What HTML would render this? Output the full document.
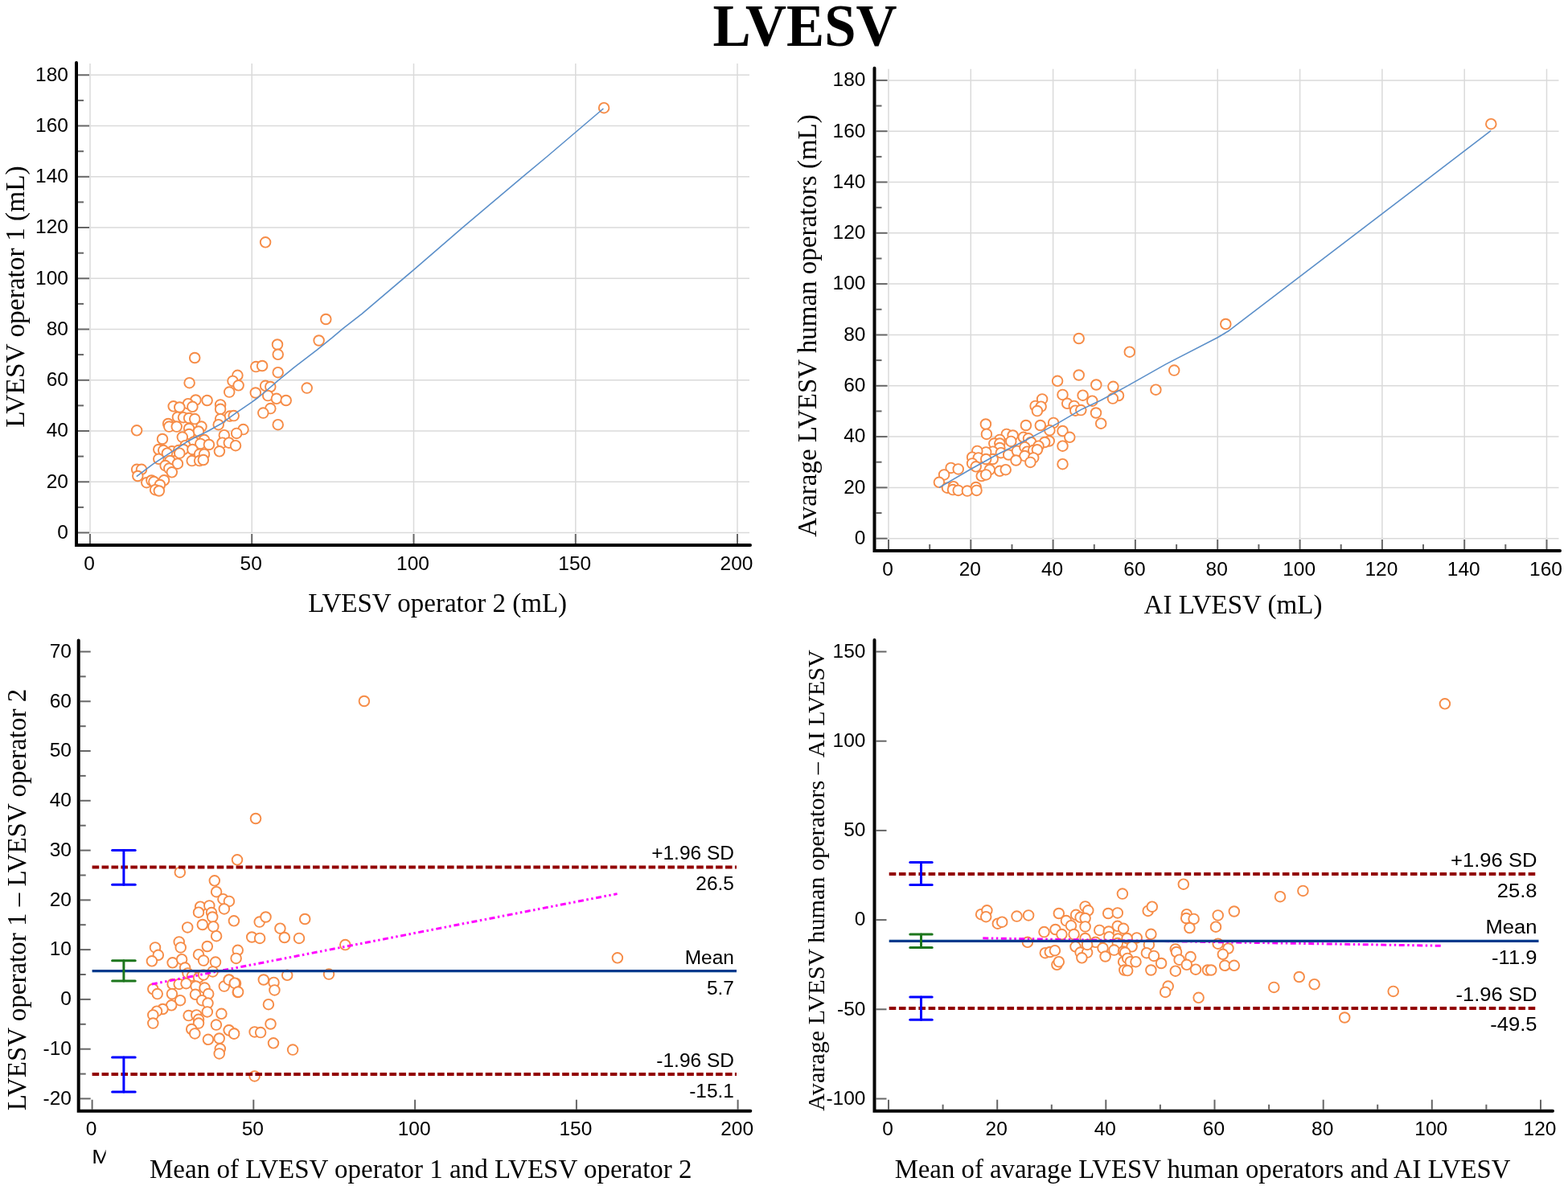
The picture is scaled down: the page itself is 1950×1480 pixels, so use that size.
<!DOCTYPE html>
<html><head><meta charset="utf-8"><title>LVESV</title>
<style>html,body{margin:0;padding:0;background:#fff;}svg{display:block;}</style>
</head><body>
<svg width="1950" height="1480" viewBox="0 0 1950 1480">
<rect width="1950" height="1480" fill="#fff"/>
<text x="0" y="0" font-size="74" font-family="'Liberation Serif', 'Times New Roman', serif" text-anchor="middle" font-weight="bold" transform="translate(1001 56.6) scale(0.955 1)">LVESV</text>
<line x1="112" y1="79" x2="112" y2="662.5" stroke="#dadada" stroke-width="1.5" />
<line x1="313.2" y1="79" x2="313.2" y2="662.5" stroke="#dadada" stroke-width="1.5" />
<line x1="514.5" y1="79" x2="514.5" y2="662.5" stroke="#dadada" stroke-width="1.5" />
<line x1="715.8" y1="79" x2="715.8" y2="662.5" stroke="#dadada" stroke-width="1.5" />
<line x1="917" y1="79" x2="917" y2="662.5" stroke="#dadada" stroke-width="1.5" />
<line x1="111" y1="662.5" x2="932" y2="662.5" stroke="#dadada" stroke-width="1.5" />
<line x1="111" y1="599.3" x2="932" y2="599.3" stroke="#dadada" stroke-width="1.5" />
<line x1="111" y1="536" x2="932" y2="536" stroke="#dadada" stroke-width="1.5" />
<line x1="111" y1="472.8" x2="932" y2="472.8" stroke="#dadada" stroke-width="1.5" />
<line x1="111" y1="409.5" x2="932" y2="409.5" stroke="#dadada" stroke-width="1.5" />
<line x1="111" y1="346.3" x2="932" y2="346.3" stroke="#dadada" stroke-width="1.5" />
<line x1="111" y1="283" x2="932" y2="283" stroke="#dadada" stroke-width="1.5" />
<line x1="111" y1="219.8" x2="932" y2="219.8" stroke="#dadada" stroke-width="1.5" />
<line x1="111" y1="156.5" x2="932" y2="156.5" stroke="#dadada" stroke-width="1.5" />
<line x1="111" y1="93.3" x2="932" y2="93.3" stroke="#dadada" stroke-width="1.5" />
<line x1="97" y1="662.5" x2="111" y2="662.5" stroke="#666" stroke-width="2" />
<text x="85" y="669.7" font-size="24.5" font-family="'Liberation Sans', Arial, sans-serif" text-anchor="end" >0</text>
<line x1="97" y1="599.3" x2="111" y2="599.3" stroke="#666" stroke-width="2" />
<text x="85" y="606.5" font-size="24.5" font-family="'Liberation Sans', Arial, sans-serif" text-anchor="end" >20</text>
<line x1="97" y1="536" x2="111" y2="536" stroke="#666" stroke-width="2" />
<text x="85" y="543.3" font-size="24.5" font-family="'Liberation Sans', Arial, sans-serif" text-anchor="end" >40</text>
<line x1="97" y1="472.8" x2="111" y2="472.8" stroke="#666" stroke-width="2" />
<text x="85" y="480" font-size="24.5" font-family="'Liberation Sans', Arial, sans-serif" text-anchor="end" >60</text>
<line x1="97" y1="409.5" x2="111" y2="409.5" stroke="#666" stroke-width="2" />
<text x="85" y="416.8" font-size="24.5" font-family="'Liberation Sans', Arial, sans-serif" text-anchor="end" >80</text>
<line x1="97" y1="346.3" x2="111" y2="346.3" stroke="#666" stroke-width="2" />
<text x="85" y="353.5" font-size="24.5" font-family="'Liberation Sans', Arial, sans-serif" text-anchor="end" >100</text>
<line x1="97" y1="283" x2="111" y2="283" stroke="#666" stroke-width="2" />
<text x="85" y="290.3" font-size="24.5" font-family="'Liberation Sans', Arial, sans-serif" text-anchor="end" >120</text>
<line x1="97" y1="219.8" x2="111" y2="219.8" stroke="#666" stroke-width="2" />
<text x="85" y="227" font-size="24.5" font-family="'Liberation Sans', Arial, sans-serif" text-anchor="end" >140</text>
<line x1="97" y1="156.5" x2="111" y2="156.5" stroke="#666" stroke-width="2" />
<text x="85" y="163.8" font-size="24.5" font-family="'Liberation Sans', Arial, sans-serif" text-anchor="end" >160</text>
<line x1="97" y1="93.3" x2="111" y2="93.3" stroke="#666" stroke-width="2" />
<text x="85" y="100.5" font-size="24.5" font-family="'Liberation Sans', Arial, sans-serif" text-anchor="end" >180</text>
<line x1="97" y1="630.9" x2="104" y2="630.9" stroke="#666" stroke-width="2" />
<line x1="97" y1="567.6" x2="104" y2="567.6" stroke="#666" stroke-width="2" />
<line x1="97" y1="504.4" x2="104" y2="504.4" stroke="#666" stroke-width="2" />
<line x1="97" y1="441.1" x2="104" y2="441.1" stroke="#666" stroke-width="2" />
<line x1="97" y1="377.9" x2="104" y2="377.9" stroke="#666" stroke-width="2" />
<line x1="97" y1="314.7" x2="104" y2="314.7" stroke="#666" stroke-width="2" />
<line x1="97" y1="251.4" x2="104" y2="251.4" stroke="#666" stroke-width="2" />
<line x1="97" y1="188.2" x2="104" y2="188.2" stroke="#666" stroke-width="2" />
<line x1="97" y1="124.9" x2="104" y2="124.9" stroke="#666" stroke-width="2" />
<line x1="112" y1="676" x2="112" y2="664" stroke="#666" stroke-width="2" />
<text x="111" y="709.3" font-size="24.5" font-family="'Liberation Sans', Arial, sans-serif" text-anchor="middle" >0</text>
<line x1="313.2" y1="676" x2="313.2" y2="664" stroke="#666" stroke-width="2" />
<text x="312.2" y="709.3" font-size="24.5" font-family="'Liberation Sans', Arial, sans-serif" text-anchor="middle" >50</text>
<line x1="514.5" y1="676" x2="514.5" y2="664" stroke="#666" stroke-width="2" />
<text x="513.5" y="709.3" font-size="24.5" font-family="'Liberation Sans', Arial, sans-serif" text-anchor="middle" >100</text>
<line x1="715.8" y1="676" x2="715.8" y2="664" stroke="#666" stroke-width="2" />
<text x="714.8" y="709.3" font-size="24.5" font-family="'Liberation Sans', Arial, sans-serif" text-anchor="middle" >150</text>
<line x1="917" y1="676" x2="917" y2="664" stroke="#666" stroke-width="2" />
<text x="916" y="709.3" font-size="24.5" font-family="'Liberation Sans', Arial, sans-serif" text-anchor="middle" >200</text>
<path d="M95 78V678H933" fill="none" stroke="#000" stroke-width="4" stroke-linecap="round" stroke-linejoin="miter"/>
<text x="544.2" y="760.9" font-size="33" font-family="'Liberation Serif', 'Times New Roman', serif" text-anchor="middle" >LVESV operator 2 (mL)</text>
<text x="30.3" y="369.1" font-size="33.4" font-family="'Liberation Serif', 'Times New Roman', serif" text-anchor="middle" transform="rotate(-90 30.3 369.1)">LVESV operator 1 (mL)</text>
<line x1="1105" y1="85.7" x2="1105" y2="669.7" stroke="#dadada" stroke-width="1.5" />
<line x1="1207.3" y1="85.7" x2="1207.3" y2="669.7" stroke="#dadada" stroke-width="1.5" />
<line x1="1309.6" y1="85.7" x2="1309.6" y2="669.7" stroke="#dadada" stroke-width="1.5" />
<line x1="1411.9" y1="85.7" x2="1411.9" y2="669.7" stroke="#dadada" stroke-width="1.5" />
<line x1="1514.2" y1="85.7" x2="1514.2" y2="669.7" stroke="#dadada" stroke-width="1.5" />
<line x1="1616.6" y1="85.7" x2="1616.6" y2="669.7" stroke="#dadada" stroke-width="1.5" />
<line x1="1718.9" y1="85.7" x2="1718.9" y2="669.7" stroke="#dadada" stroke-width="1.5" />
<line x1="1821.2" y1="85.7" x2="1821.2" y2="669.7" stroke="#dadada" stroke-width="1.5" />
<line x1="1923.5" y1="85.7" x2="1923.5" y2="669.7" stroke="#dadada" stroke-width="1.5" />
<line x1="1103" y1="669.7" x2="1938.5" y2="669.7" stroke="#dadada" stroke-width="1.5" />
<line x1="1103" y1="606.4" x2="1938.5" y2="606.4" stroke="#dadada" stroke-width="1.5" />
<line x1="1103" y1="543.1" x2="1938.5" y2="543.1" stroke="#dadada" stroke-width="1.5" />
<line x1="1103" y1="479.8" x2="1938.5" y2="479.8" stroke="#dadada" stroke-width="1.5" />
<line x1="1103" y1="416.5" x2="1938.5" y2="416.5" stroke="#dadada" stroke-width="1.5" />
<line x1="1103" y1="353.1" x2="1938.5" y2="353.1" stroke="#dadada" stroke-width="1.5" />
<line x1="1103" y1="289.8" x2="1938.5" y2="289.8" stroke="#dadada" stroke-width="1.5" />
<line x1="1103" y1="226.5" x2="1938.5" y2="226.5" stroke="#dadada" stroke-width="1.5" />
<line x1="1103" y1="163.2" x2="1938.5" y2="163.2" stroke="#dadada" stroke-width="1.5" />
<line x1="1103" y1="99.9" x2="1938.5" y2="99.9" stroke="#dadada" stroke-width="1.5" />
<line x1="1089.5" y1="669.7" x2="1103.5" y2="669.7" stroke="#666" stroke-width="2" />
<text x="1076.5" y="676.9" font-size="24.5" font-family="'Liberation Sans', Arial, sans-serif" text-anchor="end" >0</text>
<line x1="1089.5" y1="606.4" x2="1103.5" y2="606.4" stroke="#666" stroke-width="2" />
<text x="1076.5" y="613.6" font-size="24.5" font-family="'Liberation Sans', Arial, sans-serif" text-anchor="end" >20</text>
<line x1="1089.5" y1="543.1" x2="1103.5" y2="543.1" stroke="#666" stroke-width="2" />
<text x="1076.5" y="550.3" font-size="24.5" font-family="'Liberation Sans', Arial, sans-serif" text-anchor="end" >40</text>
<line x1="1089.5" y1="479.8" x2="1103.5" y2="479.8" stroke="#666" stroke-width="2" />
<text x="1076.5" y="487" font-size="24.5" font-family="'Liberation Sans', Arial, sans-serif" text-anchor="end" >60</text>
<line x1="1089.5" y1="416.5" x2="1103.5" y2="416.5" stroke="#666" stroke-width="2" />
<text x="1076.5" y="423.7" font-size="24.5" font-family="'Liberation Sans', Arial, sans-serif" text-anchor="end" >80</text>
<line x1="1089.5" y1="353.1" x2="1103.5" y2="353.1" stroke="#666" stroke-width="2" />
<text x="1076.5" y="360.4" font-size="24.5" font-family="'Liberation Sans', Arial, sans-serif" text-anchor="end" >100</text>
<line x1="1089.5" y1="289.8" x2="1103.5" y2="289.8" stroke="#666" stroke-width="2" />
<text x="1076.5" y="297.1" font-size="24.5" font-family="'Liberation Sans', Arial, sans-serif" text-anchor="end" >120</text>
<line x1="1089.5" y1="226.5" x2="1103.5" y2="226.5" stroke="#666" stroke-width="2" />
<text x="1076.5" y="233.8" font-size="24.5" font-family="'Liberation Sans', Arial, sans-serif" text-anchor="end" >140</text>
<line x1="1089.5" y1="163.2" x2="1103.5" y2="163.2" stroke="#666" stroke-width="2" />
<text x="1076.5" y="170.5" font-size="24.5" font-family="'Liberation Sans', Arial, sans-serif" text-anchor="end" >160</text>
<line x1="1089.5" y1="99.9" x2="1103.5" y2="99.9" stroke="#666" stroke-width="2" />
<text x="1076.5" y="107.1" font-size="24.5" font-family="'Liberation Sans', Arial, sans-serif" text-anchor="end" >180</text>
<line x1="1089.5" y1="638" x2="1096.5" y2="638" stroke="#666" stroke-width="2" />
<line x1="1089.5" y1="574.7" x2="1096.5" y2="574.7" stroke="#666" stroke-width="2" />
<line x1="1089.5" y1="511.4" x2="1096.5" y2="511.4" stroke="#666" stroke-width="2" />
<line x1="1089.5" y1="448.1" x2="1096.5" y2="448.1" stroke="#666" stroke-width="2" />
<line x1="1089.5" y1="384.8" x2="1096.5" y2="384.8" stroke="#666" stroke-width="2" />
<line x1="1089.5" y1="321.5" x2="1096.5" y2="321.5" stroke="#666" stroke-width="2" />
<line x1="1089.5" y1="258.2" x2="1096.5" y2="258.2" stroke="#666" stroke-width="2" />
<line x1="1089.5" y1="194.9" x2="1096.5" y2="194.9" stroke="#666" stroke-width="2" />
<line x1="1089.5" y1="131.6" x2="1096.5" y2="131.6" stroke="#666" stroke-width="2" />
<line x1="1105" y1="683" x2="1105" y2="671" stroke="#666" stroke-width="2" />
<text x="1104" y="716" font-size="24.5" font-family="'Liberation Sans', Arial, sans-serif" text-anchor="middle" >0</text>
<line x1="1207.3" y1="683" x2="1207.3" y2="671" stroke="#666" stroke-width="2" />
<text x="1206.3" y="716" font-size="24.5" font-family="'Liberation Sans', Arial, sans-serif" text-anchor="middle" >20</text>
<line x1="1309.6" y1="683" x2="1309.6" y2="671" stroke="#666" stroke-width="2" />
<text x="1308.6" y="716" font-size="24.5" font-family="'Liberation Sans', Arial, sans-serif" text-anchor="middle" >40</text>
<line x1="1411.9" y1="683" x2="1411.9" y2="671" stroke="#666" stroke-width="2" />
<text x="1410.9" y="716" font-size="24.5" font-family="'Liberation Sans', Arial, sans-serif" text-anchor="middle" >60</text>
<line x1="1514.2" y1="683" x2="1514.2" y2="671" stroke="#666" stroke-width="2" />
<text x="1513.2" y="716" font-size="24.5" font-family="'Liberation Sans', Arial, sans-serif" text-anchor="middle" >80</text>
<line x1="1616.6" y1="683" x2="1616.6" y2="671" stroke="#666" stroke-width="2" />
<text x="1615.6" y="716" font-size="24.5" font-family="'Liberation Sans', Arial, sans-serif" text-anchor="middle" >100</text>
<line x1="1718.9" y1="683" x2="1718.9" y2="671" stroke="#666" stroke-width="2" />
<text x="1717.9" y="716" font-size="24.5" font-family="'Liberation Sans', Arial, sans-serif" text-anchor="middle" >120</text>
<line x1="1821.2" y1="683" x2="1821.2" y2="671" stroke="#666" stroke-width="2" />
<text x="1820.2" y="716" font-size="24.5" font-family="'Liberation Sans', Arial, sans-serif" text-anchor="middle" >140</text>
<line x1="1923.5" y1="683" x2="1923.5" y2="671" stroke="#666" stroke-width="2" />
<text x="1922.5" y="716" font-size="24.5" font-family="'Liberation Sans', Arial, sans-serif" text-anchor="middle" >160</text>
<line x1="1156.2" y1="683" x2="1156.2" y2="677" stroke="#666" stroke-width="2" />
<line x1="1258.5" y1="683" x2="1258.5" y2="677" stroke="#666" stroke-width="2" />
<line x1="1360.8" y1="683" x2="1360.8" y2="677" stroke="#666" stroke-width="2" />
<line x1="1463.1" y1="683" x2="1463.1" y2="677" stroke="#666" stroke-width="2" />
<line x1="1565.4" y1="683" x2="1565.4" y2="677" stroke="#666" stroke-width="2" />
<line x1="1667.7" y1="683" x2="1667.7" y2="677" stroke="#666" stroke-width="2" />
<line x1="1770" y1="683" x2="1770" y2="677" stroke="#666" stroke-width="2" />
<line x1="1872.3" y1="683" x2="1872.3" y2="677" stroke="#666" stroke-width="2" />
<path d="M1087.5 84.7V685H1940" fill="none" stroke="#000" stroke-width="4" stroke-linecap="round" stroke-linejoin="miter"/>
<text x="1533.5" y="763.1" font-size="33" font-family="'Liberation Serif', 'Times New Roman', serif" text-anchor="middle" >AI LVESV (mL)</text>
<text x="1015" y="405" font-size="33" font-family="'Liberation Serif', 'Times New Roman', serif" text-anchor="middle" transform="rotate(-90 1015 405)">Avarage LVESV human operators (mL)</text>
<line x1="99.7" y1="1366.4" x2="112.7" y2="1366.4" stroke="#666" stroke-width="2" />
<text x="89" y="1373.7" font-size="24.5" font-family="'Liberation Sans', Arial, sans-serif" text-anchor="end" >-20</text>
<line x1="99.7" y1="1304.7" x2="112.7" y2="1304.7" stroke="#666" stroke-width="2" />
<text x="89" y="1311.9" font-size="24.5" font-family="'Liberation Sans', Arial, sans-serif" text-anchor="end" >-10</text>
<line x1="99.7" y1="1242.9" x2="112.7" y2="1242.9" stroke="#666" stroke-width="2" />
<text x="89" y="1250.1" font-size="24.5" font-family="'Liberation Sans', Arial, sans-serif" text-anchor="end" >0</text>
<line x1="99.7" y1="1181.1" x2="112.7" y2="1181.1" stroke="#666" stroke-width="2" />
<text x="89" y="1188.4" font-size="24.5" font-family="'Liberation Sans', Arial, sans-serif" text-anchor="end" >10</text>
<line x1="99.7" y1="1119.4" x2="112.7" y2="1119.4" stroke="#666" stroke-width="2" />
<text x="89" y="1126.6" font-size="24.5" font-family="'Liberation Sans', Arial, sans-serif" text-anchor="end" >20</text>
<line x1="99.7" y1="1057.6" x2="112.7" y2="1057.6" stroke="#666" stroke-width="2" />
<text x="89" y="1064.8" font-size="24.5" font-family="'Liberation Sans', Arial, sans-serif" text-anchor="end" >30</text>
<line x1="99.7" y1="995.8" x2="112.7" y2="995.8" stroke="#666" stroke-width="2" />
<text x="89" y="1003.1" font-size="24.5" font-family="'Liberation Sans', Arial, sans-serif" text-anchor="end" >40</text>
<line x1="99.7" y1="934" x2="112.7" y2="934" stroke="#666" stroke-width="2" />
<text x="89" y="941.3" font-size="24.5" font-family="'Liberation Sans', Arial, sans-serif" text-anchor="end" >50</text>
<line x1="99.7" y1="872.3" x2="112.7" y2="872.3" stroke="#666" stroke-width="2" />
<text x="89" y="879.5" font-size="24.5" font-family="'Liberation Sans', Arial, sans-serif" text-anchor="end" >60</text>
<line x1="99.7" y1="810.5" x2="112.7" y2="810.5" stroke="#666" stroke-width="2" />
<text x="89" y="817.7" font-size="24.5" font-family="'Liberation Sans', Arial, sans-serif" text-anchor="end" >70</text>
<line x1="99.7" y1="1335.6" x2="106.7" y2="1335.6" stroke="#666" stroke-width="2" />
<line x1="99.7" y1="1273.8" x2="106.7" y2="1273.8" stroke="#666" stroke-width="2" />
<line x1="99.7" y1="1212" x2="106.7" y2="1212" stroke="#666" stroke-width="2" />
<line x1="99.7" y1="1150.2" x2="106.7" y2="1150.2" stroke="#666" stroke-width="2" />
<line x1="99.7" y1="1088.5" x2="106.7" y2="1088.5" stroke="#666" stroke-width="2" />
<line x1="99.7" y1="1026.7" x2="106.7" y2="1026.7" stroke="#666" stroke-width="2" />
<line x1="99.7" y1="964.9" x2="106.7" y2="964.9" stroke="#666" stroke-width="2" />
<line x1="99.7" y1="903.2" x2="106.7" y2="903.2" stroke="#666" stroke-width="2" />
<line x1="99.7" y1="841.4" x2="106.7" y2="841.4" stroke="#666" stroke-width="2" />
<line x1="114.6" y1="1379.7" x2="114.6" y2="1367.7" stroke="#666" stroke-width="2" />
<text x="113.6" y="1412.2" font-size="24.5" font-family="'Liberation Sans', Arial, sans-serif" text-anchor="middle" >0</text>
<line x1="315.3" y1="1379.7" x2="315.3" y2="1367.7" stroke="#666" stroke-width="2" />
<text x="314.3" y="1412.2" font-size="24.5" font-family="'Liberation Sans', Arial, sans-serif" text-anchor="middle" >50</text>
<line x1="516.1" y1="1379.7" x2="516.1" y2="1367.7" stroke="#666" stroke-width="2" />
<text x="515.1" y="1412.2" font-size="24.5" font-family="'Liberation Sans', Arial, sans-serif" text-anchor="middle" >100</text>
<line x1="716.9" y1="1379.7" x2="716.9" y2="1367.7" stroke="#666" stroke-width="2" />
<text x="715.9" y="1412.2" font-size="24.5" font-family="'Liberation Sans', Arial, sans-serif" text-anchor="middle" >150</text>
<line x1="917.6" y1="1379.7" x2="917.6" y2="1367.7" stroke="#666" stroke-width="2" />
<text x="916.6" y="1412.2" font-size="24.5" font-family="'Liberation Sans', Arial, sans-serif" text-anchor="middle" >200</text>
<path d="M97.7 796.6V1381.7H933.3" fill="none" stroke="#000" stroke-width="4" stroke-linecap="round" stroke-linejoin="miter"/>
<text x="523.3" y="1465.4" font-size="33" font-family="'Liberation Serif', 'Times New Roman', serif" text-anchor="middle" >Mean of LVESV operator 1 and LVESV operator 2</text>
<text x="31.5" y="1119" font-size="33" font-family="'Liberation Serif', 'Times New Roman', serif" text-anchor="middle" transform="rotate(-90 31.5 1119)">LVESV operator 1 – LVESV operator 2</text>
<line x1="1089.5" y1="1366.5" x2="1102.5" y2="1366.5" stroke="#666" stroke-width="2" />
<text x="1076.5" y="1373.7" font-size="24.5" font-family="'Liberation Sans', Arial, sans-serif" text-anchor="end" >-100</text>
<line x1="1089.5" y1="1255.3" x2="1102.5" y2="1255.3" stroke="#666" stroke-width="2" />
<text x="1076.5" y="1262.5" font-size="24.5" font-family="'Liberation Sans', Arial, sans-serif" text-anchor="end" >-50</text>
<line x1="1089.5" y1="1144.1" x2="1102.5" y2="1144.1" stroke="#666" stroke-width="2" />
<text x="1076.5" y="1151.3" font-size="24.5" font-family="'Liberation Sans', Arial, sans-serif" text-anchor="end" >0</text>
<line x1="1089.5" y1="1032.9" x2="1102.5" y2="1032.9" stroke="#666" stroke-width="2" />
<text x="1076.5" y="1040.1" font-size="24.5" font-family="'Liberation Sans', Arial, sans-serif" text-anchor="end" >50</text>
<line x1="1089.5" y1="921.7" x2="1102.5" y2="921.7" stroke="#666" stroke-width="2" />
<text x="1076.5" y="928.9" font-size="24.5" font-family="'Liberation Sans', Arial, sans-serif" text-anchor="end" >100</text>
<line x1="1089.5" y1="810.5" x2="1102.5" y2="810.5" stroke="#666" stroke-width="2" />
<text x="1076.5" y="817.7" font-size="24.5" font-family="'Liberation Sans', Arial, sans-serif" text-anchor="end" >150</text>
<line x1="1105" y1="1379.7" x2="1105" y2="1367.7" stroke="#666" stroke-width="2" />
<text x="1104" y="1412.3" font-size="24.5" font-family="'Liberation Sans', Arial, sans-serif" text-anchor="middle" >0</text>
<line x1="1240.2" y1="1379.7" x2="1240.2" y2="1367.7" stroke="#666" stroke-width="2" />
<text x="1239.2" y="1412.3" font-size="24.5" font-family="'Liberation Sans', Arial, sans-serif" text-anchor="middle" >20</text>
<line x1="1375.3" y1="1379.7" x2="1375.3" y2="1367.7" stroke="#666" stroke-width="2" />
<text x="1374.3" y="1412.3" font-size="24.5" font-family="'Liberation Sans', Arial, sans-serif" text-anchor="middle" >40</text>
<line x1="1510.5" y1="1379.7" x2="1510.5" y2="1367.7" stroke="#666" stroke-width="2" />
<text x="1509.5" y="1412.3" font-size="24.5" font-family="'Liberation Sans', Arial, sans-serif" text-anchor="middle" >60</text>
<line x1="1645.7" y1="1379.7" x2="1645.7" y2="1367.7" stroke="#666" stroke-width="2" />
<text x="1644.7" y="1412.3" font-size="24.5" font-family="'Liberation Sans', Arial, sans-serif" text-anchor="middle" >80</text>
<line x1="1780.8" y1="1379.7" x2="1780.8" y2="1367.7" stroke="#666" stroke-width="2" />
<text x="1779.8" y="1412.3" font-size="24.5" font-family="'Liberation Sans', Arial, sans-serif" text-anchor="middle" >100</text>
<line x1="1916" y1="1379.7" x2="1916" y2="1367.7" stroke="#666" stroke-width="2" />
<text x="1915" y="1412.3" font-size="24.5" font-family="'Liberation Sans', Arial, sans-serif" text-anchor="middle" >120</text>
<line x1="1172.6" y1="1379.7" x2="1172.6" y2="1373.7" stroke="#666" stroke-width="2" />
<line x1="1307.8" y1="1379.7" x2="1307.8" y2="1373.7" stroke="#666" stroke-width="2" />
<line x1="1442.9" y1="1379.7" x2="1442.9" y2="1373.7" stroke="#666" stroke-width="2" />
<line x1="1578.1" y1="1379.7" x2="1578.1" y2="1373.7" stroke="#666" stroke-width="2" />
<line x1="1713.2" y1="1379.7" x2="1713.2" y2="1373.7" stroke="#666" stroke-width="2" />
<line x1="1848.4" y1="1379.7" x2="1848.4" y2="1373.7" stroke="#666" stroke-width="2" />
<path d="M1087.5 796V1381.7H1931" fill="none" stroke="#000" stroke-width="4" stroke-linecap="round" stroke-linejoin="miter"/>
<text x="1495.5" y="1465" font-size="32.8" font-family="'Liberation Serif', 'Times New Roman', serif" text-anchor="middle" >Mean of avarage LVESV human operators and AI LVESV</text>
<text x="1025.3" y="1095" font-size="30.2" font-family="'Liberation Serif', 'Times New Roman', serif" text-anchor="middle" transform="rotate(-90 1025.3 1095)">Avarage LVESV human operators – AI LVESV</text>
<g fill="#fff" stroke="#F68C47" stroke-width="1.9">
<circle cx="751.1" cy="134.2" r="6.3"/>
<circle cx="330.1" cy="301.3" r="6.3"/>
<circle cx="405.3" cy="397" r="6.3"/>
<circle cx="396.6" cy="423.5" r="6.3"/>
<circle cx="345" cy="428.5" r="6.3"/>
<circle cx="345.7" cy="440.8" r="6.3"/>
<circle cx="242.2" cy="445" r="6.3"/>
<circle cx="318.3" cy="456.1" r="6.3"/>
<circle cx="326.1" cy="455" r="6.3"/>
<circle cx="345.7" cy="463.2" r="6.3"/>
<circle cx="295.4" cy="466.8" r="6.3"/>
<circle cx="289.5" cy="473.9" r="6.3"/>
<circle cx="296.6" cy="479.3" r="6.3"/>
<circle cx="235.6" cy="476.2" r="6.3"/>
<circle cx="330.1" cy="479.8" r="6.3"/>
<circle cx="336.3" cy="481" r="6.3"/>
<circle cx="381.7" cy="482.6" r="6.3"/>
<circle cx="285.2" cy="487.6" r="6.3"/>
<circle cx="317.8" cy="488.5" r="6.3"/>
<circle cx="333.2" cy="492.1" r="6.3"/>
<circle cx="343.9" cy="495.8" r="6.3"/>
<circle cx="355.7" cy="498" r="6.3"/>
<circle cx="257.6" cy="498" r="6.3"/>
<circle cx="243.4" cy="497.5" r="6.3"/>
<circle cx="233.9" cy="502.2" r="6.3"/>
<circle cx="239.4" cy="505.8" r="6.3"/>
<circle cx="215.7" cy="505.3" r="6.3"/>
<circle cx="223.3" cy="506.5" r="6.3"/>
<circle cx="274.1" cy="503.4" r="6.3"/>
<circle cx="274.1" cy="508.8" r="6.3"/>
<circle cx="336.3" cy="508.1" r="6.3"/>
<circle cx="327.3" cy="513.6" r="6.3"/>
<circle cx="220.9" cy="518.8" r="6.3"/>
<circle cx="228" cy="519.2" r="6.3"/>
<circle cx="235.1" cy="520" r="6.3"/>
<circle cx="242.2" cy="521.1" r="6.3"/>
<circle cx="285.9" cy="517.6" r="6.3"/>
<circle cx="290.7" cy="517.1" r="6.3"/>
<circle cx="274.1" cy="521.1" r="6.3"/>
<circle cx="271.7" cy="528.2" r="6.3"/>
<circle cx="209.1" cy="527" r="6.3"/>
<circle cx="210.3" cy="530.6" r="6.3"/>
<circle cx="219.7" cy="530.6" r="6.3"/>
<circle cx="250.5" cy="530.6" r="6.3"/>
<circle cx="235.1" cy="533" r="6.3"/>
<circle cx="345.7" cy="528.2" r="6.3"/>
<circle cx="170.1" cy="535.3" r="6.3"/>
<circle cx="246.9" cy="536.5" r="6.3"/>
<circle cx="302.5" cy="534.1" r="6.3"/>
<circle cx="294.2" cy="538.9" r="6.3"/>
<circle cx="235.1" cy="540" r="6.3"/>
<circle cx="278.8" cy="541.2" r="6.3"/>
<circle cx="226.8" cy="543.6" r="6.3"/>
<circle cx="202" cy="546" r="6.3"/>
<circle cx="254" cy="547.1" r="6.3"/>
<circle cx="241" cy="549.5" r="6.3"/>
<circle cx="249.3" cy="551.9" r="6.3"/>
<circle cx="259.9" cy="553" r="6.3"/>
<circle cx="276.5" cy="550.7" r="6.3"/>
<circle cx="284.8" cy="550.7" r="6.3"/>
<circle cx="293" cy="554.2" r="6.3"/>
<circle cx="230.4" cy="554.2" r="6.3"/>
<circle cx="197.3" cy="559" r="6.3"/>
<circle cx="203.2" cy="560.1" r="6.3"/>
<circle cx="213.8" cy="561.3" r="6.3"/>
<circle cx="222.1" cy="560.1" r="6.3"/>
<circle cx="228" cy="559" r="6.3"/>
<circle cx="239.4" cy="559" r="6.3"/>
<circle cx="272.9" cy="561.3" r="6.3"/>
<circle cx="207.9" cy="563.7" r="6.3"/>
<circle cx="223.3" cy="563.7" r="6.3"/>
<circle cx="248.1" cy="564.9" r="6.3"/>
<circle cx="254" cy="564.9" r="6.3"/>
<circle cx="197.3" cy="570.8" r="6.3"/>
<circle cx="238.7" cy="573.1" r="6.3"/>
<circle cx="248.1" cy="573.1" r="6.3"/>
<circle cx="252.8" cy="572" r="6.3"/>
<circle cx="211.5" cy="573.1" r="6.3"/>
<circle cx="220.9" cy="576.7" r="6.3"/>
<circle cx="205.6" cy="579.1" r="6.3"/>
<circle cx="210.3" cy="582.6" r="6.3"/>
<circle cx="213.8" cy="587.3" r="6.3"/>
<circle cx="170.1" cy="583.8" r="6.3"/>
<circle cx="176" cy="583.8" r="6.3"/>
<circle cx="171.3" cy="592" r="6.3"/>
<circle cx="182.3" cy="600.2" r="6.3"/>
<circle cx="188.4" cy="597.5" r="6.3"/>
<circle cx="191.4" cy="599.1" r="6.3"/>
<circle cx="204" cy="597.3" r="6.3"/>
<circle cx="198.9" cy="603" r="6.3"/>
<circle cx="193.1" cy="609.2" r="6.3"/>
<circle cx="197.8" cy="610.5" r="6.3"/>
<circle cx="1854.3" cy="154.2" r="6.3"/>
<circle cx="1524.3" cy="403" r="6.3"/>
<circle cx="1404.8" cy="437.7" r="6.3"/>
<circle cx="1460.2" cy="460.6" r="6.3"/>
<circle cx="1437.4" cy="484.7" r="6.3"/>
<circle cx="1341.7" cy="421" r="6.3"/>
<circle cx="1341.7" cy="466.5" r="6.3"/>
<circle cx="1315.1" cy="473.8" r="6.3"/>
<circle cx="1363.3" cy="478.5" r="6.3"/>
<circle cx="1384.4" cy="480.8" r="6.3"/>
<circle cx="1321.5" cy="490.9" r="6.3"/>
<circle cx="1346.6" cy="491.7" r="6.3"/>
<circle cx="1391" cy="492" r="6.3"/>
<circle cx="1383.9" cy="495.6" r="6.3"/>
<circle cx="1358.3" cy="498.7" r="6.3"/>
<circle cx="1296.1" cy="496.4" r="6.3"/>
<circle cx="1287.6" cy="504.9" r="6.3"/>
<circle cx="1294.6" cy="505.7" r="6.3"/>
<circle cx="1289.9" cy="511.1" r="6.3"/>
<circle cx="1327.2" cy="501.8" r="6.3"/>
<circle cx="1335.8" cy="504.9" r="6.3"/>
<circle cx="1337.3" cy="510.7" r="6.3"/>
<circle cx="1344.3" cy="510.1" r="6.3"/>
<circle cx="1363" cy="513.5" r="6.3"/>
<circle cx="1369.2" cy="526.7" r="6.3"/>
<circle cx="1225.9" cy="527.5" r="6.3"/>
<circle cx="1275.9" cy="529" r="6.3"/>
<circle cx="1293.8" cy="529" r="6.3"/>
<circle cx="1310.1" cy="525.9" r="6.3"/>
<circle cx="1305.4" cy="535.2" r="6.3"/>
<circle cx="1321.5" cy="536" r="6.3"/>
<circle cx="1330.3" cy="543.8" r="6.3"/>
<circle cx="1226.9" cy="539.9" r="6.3"/>
<circle cx="1251.8" cy="539.9" r="6.3"/>
<circle cx="1259.6" cy="541.5" r="6.3"/>
<circle cx="1243.3" cy="546.9" r="6.3"/>
<circle cx="1236.3" cy="551.6" r="6.3"/>
<circle cx="1243.3" cy="551.6" r="6.3"/>
<circle cx="1257.3" cy="548.9" r="6.3"/>
<circle cx="1272.8" cy="543.8" r="6.3"/>
<circle cx="1279" cy="545.3" r="6.3"/>
<circle cx="1282.1" cy="550" r="6.3"/>
<circle cx="1304.7" cy="548.5" r="6.3"/>
<circle cx="1299.2" cy="550" r="6.3"/>
<circle cx="1291.5" cy="554.7" r="6.3"/>
<circle cx="1321.5" cy="554.7" r="6.3"/>
<circle cx="1243.3" cy="557" r="6.3"/>
<circle cx="1234.7" cy="561.7" r="6.3"/>
<circle cx="1226.2" cy="562.4" r="6.3"/>
<circle cx="1215.3" cy="560.9" r="6.3"/>
<circle cx="1209.1" cy="568.7" r="6.3"/>
<circle cx="1216.8" cy="569.4" r="6.3"/>
<circle cx="1244.8" cy="563.2" r="6.3"/>
<circle cx="1254.2" cy="565.5" r="6.3"/>
<circle cx="1265" cy="560.9" r="6.3"/>
<circle cx="1274.4" cy="556.2" r="6.3"/>
<circle cx="1277.5" cy="561.7" r="6.3"/>
<circle cx="1285.2" cy="560.1" r="6.3"/>
<circle cx="1289.9" cy="559.3" r="6.3"/>
<circle cx="1274.4" cy="567.1" r="6.3"/>
<circle cx="1285.2" cy="569.4" r="6.3"/>
<circle cx="1263.5" cy="572.5" r="6.3"/>
<circle cx="1281.4" cy="574.9" r="6.3"/>
<circle cx="1234.7" cy="571" r="6.3"/>
<circle cx="1226.2" cy="571" r="6.3"/>
<circle cx="1209.1" cy="576.4" r="6.3"/>
<circle cx="1213.7" cy="580.3" r="6.3"/>
<circle cx="1182.6" cy="581.9" r="6.3"/>
<circle cx="1191.7" cy="583.4" r="6.3"/>
<circle cx="1230.8" cy="584.2" r="6.3"/>
<circle cx="1243.3" cy="585.8" r="6.3"/>
<circle cx="1250.7" cy="584.2" r="6.3"/>
<circle cx="1321.5" cy="577.2" r="6.3"/>
<circle cx="1174.1" cy="590.4" r="6.3"/>
<circle cx="1220.7" cy="592" r="6.3"/>
<circle cx="1226.2" cy="590.4" r="6.3"/>
<circle cx="1167.9" cy="599.8" r="6.3"/>
<circle cx="1178" cy="606.7" r="6.3"/>
<circle cx="1185.8" cy="605.2" r="6.3"/>
<circle cx="1185" cy="609.1" r="6.3"/>
<circle cx="1191.7" cy="609.9" r="6.3"/>
<circle cx="1202.9" cy="610.6" r="6.3"/>
<circle cx="1213.7" cy="606" r="6.3"/>
<circle cx="1214.5" cy="609.9" r="6.3"/>
<circle cx="452.9" cy="872" r="6.3"/>
<circle cx="318" cy="1018" r="6.3"/>
<circle cx="295" cy="1069.3" r="6.3"/>
<circle cx="223.8" cy="1084.9" r="6.3"/>
<circle cx="266.8" cy="1095.3" r="6.3"/>
<circle cx="269.1" cy="1109.2" r="6.3"/>
<circle cx="277.4" cy="1118.2" r="6.3"/>
<circle cx="284.9" cy="1120.9" r="6.3"/>
<circle cx="278.8" cy="1130.4" r="6.3"/>
<circle cx="249.1" cy="1127.7" r="6.3"/>
<circle cx="260.3" cy="1126.4" r="6.3"/>
<circle cx="247" cy="1134.7" r="6.3"/>
<circle cx="263" cy="1135.1" r="6.3"/>
<circle cx="264.2" cy="1140.5" r="6.3"/>
<circle cx="290.9" cy="1145.3" r="6.3"/>
<circle cx="322.7" cy="1146.6" r="6.3"/>
<circle cx="330.5" cy="1140.5" r="6.3"/>
<circle cx="379.2" cy="1143" r="6.3"/>
<circle cx="233.2" cy="1153.4" r="6.3"/>
<circle cx="251.8" cy="1150" r="6.3"/>
<circle cx="265.3" cy="1152.4" r="6.3"/>
<circle cx="269.1" cy="1164.2" r="6.3"/>
<circle cx="348.4" cy="1154.7" r="6.3"/>
<circle cx="313.2" cy="1165.5" r="6.3"/>
<circle cx="323.1" cy="1166.9" r="6.3"/>
<circle cx="353.8" cy="1166" r="6.3"/>
<circle cx="372" cy="1166.9" r="6.3"/>
<circle cx="222.7" cy="1171.4" r="6.3"/>
<circle cx="224.7" cy="1178.4" r="6.3"/>
<circle cx="193" cy="1178.4" r="6.3"/>
<circle cx="257.8" cy="1177" r="6.3"/>
<circle cx="295.7" cy="1181.8" r="6.3"/>
<circle cx="196.8" cy="1187.8" r="6.3"/>
<circle cx="247" cy="1187.2" r="6.3"/>
<circle cx="293.6" cy="1191.9" r="6.3"/>
<circle cx="188.9" cy="1195.3" r="6.3"/>
<circle cx="214.6" cy="1197.3" r="6.3"/>
<circle cx="226.1" cy="1193.2" r="6.3"/>
<circle cx="253.1" cy="1194.6" r="6.3"/>
<circle cx="268" cy="1196.6" r="6.3"/>
<circle cx="429.3" cy="1175.1" r="6.3"/>
<circle cx="409" cy="1211.6" r="6.3"/>
<circle cx="767.9" cy="1191.3" r="6.3"/>
<circle cx="364.1" cy="1305.6" r="6.3"/>
<circle cx="230.1" cy="1203.6" r="6.3"/>
<circle cx="233.5" cy="1210.4" r="6.3"/>
<circle cx="238.9" cy="1213.8" r="6.3"/>
<circle cx="247" cy="1215.8" r="6.3"/>
<circle cx="253.1" cy="1212.4" r="6.3"/>
<circle cx="264.6" cy="1208.4" r="6.3"/>
<circle cx="284.9" cy="1218.5" r="6.3"/>
<circle cx="293" cy="1223" r="6.3"/>
<circle cx="278.8" cy="1226.6" r="6.3"/>
<circle cx="295.7" cy="1234.1" r="6.3"/>
<circle cx="327.8" cy="1218.5" r="6.3"/>
<circle cx="340.5" cy="1221.9" r="6.3"/>
<circle cx="341.4" cy="1231.4" r="6.3"/>
<circle cx="357.2" cy="1212.8" r="6.3"/>
<circle cx="190.3" cy="1230" r="6.3"/>
<circle cx="195.7" cy="1236.1" r="6.3"/>
<circle cx="214.6" cy="1223.9" r="6.3"/>
<circle cx="222.7" cy="1223.9" r="6.3"/>
<circle cx="231.5" cy="1223.2" r="6.3"/>
<circle cx="213.9" cy="1236.1" r="6.3"/>
<circle cx="224.1" cy="1244.2" r="6.3"/>
<circle cx="243.6" cy="1226.6" r="6.3"/>
<circle cx="254.5" cy="1228.6" r="6.3"/>
<circle cx="243" cy="1236.8" r="6.3"/>
<circle cx="259.2" cy="1236.1" r="6.3"/>
<circle cx="251.1" cy="1244.2" r="6.3"/>
<circle cx="258.5" cy="1247.6" r="6.3"/>
<circle cx="333.9" cy="1249.2" r="6.3"/>
<circle cx="213.2" cy="1250.3" r="6.3"/>
<circle cx="202.4" cy="1255" r="6.3"/>
<circle cx="195" cy="1257.7" r="6.3"/>
<circle cx="190.3" cy="1262.4" r="6.3"/>
<circle cx="190.3" cy="1272.6" r="6.3"/>
<circle cx="234.6" cy="1263.1" r="6.3"/>
<circle cx="244.3" cy="1262.4" r="6.3"/>
<circle cx="247" cy="1267.8" r="6.3"/>
<circle cx="247" cy="1272.6" r="6.3"/>
<circle cx="257.8" cy="1258.4" r="6.3"/>
<circle cx="275.4" cy="1260.8" r="6.3"/>
<circle cx="268.9" cy="1274.6" r="6.3"/>
<circle cx="238.2" cy="1280" r="6.3"/>
<circle cx="242.3" cy="1285.4" r="6.3"/>
<circle cx="258.9" cy="1292.8" r="6.3"/>
<circle cx="272.7" cy="1291.5" r="6.3"/>
<circle cx="273.8" cy="1304.3" r="6.3"/>
<circle cx="272.7" cy="1310.4" r="6.3"/>
<circle cx="284.9" cy="1281.4" r="6.3"/>
<circle cx="290.9" cy="1285.4" r="6.3"/>
<circle cx="316.6" cy="1283.4" r="6.3"/>
<circle cx="324.1" cy="1284.1" r="6.3"/>
<circle cx="336.5" cy="1273.5" r="6.3"/>
<circle cx="340" cy="1297.3" r="6.3"/>
<circle cx="316.6" cy="1338.4" r="6.3"/>
<circle cx="284.7" cy="1218.7" r="6.3"/>
<circle cx="291.8" cy="1222.7" r="6.3"/>
<circle cx="296.1" cy="1233.6" r="6.3"/>
<circle cx="284.7" cy="1281.3" r="6.3"/>
<circle cx="291.1" cy="1285.6" r="6.3"/>
<circle cx="1796.9" cy="875.3" r="6.3"/>
<circle cx="1732.7" cy="1232.9" r="6.3"/>
<circle cx="1672.2" cy="1265.5" r="6.3"/>
<circle cx="1615.7" cy="1215" r="6.3"/>
<circle cx="1634.6" cy="1224.2" r="6.3"/>
<circle cx="1584.3" cy="1227.9" r="6.3"/>
<circle cx="1592" cy="1115.2" r="6.3"/>
<circle cx="1620.4" cy="1107.9" r="6.3"/>
<circle cx="1220.1" cy="1137.2" r="6.3"/>
<circle cx="1227.4" cy="1132.3" r="6.3"/>
<circle cx="1226.2" cy="1140.2" r="6.3"/>
<circle cx="1240.8" cy="1148.7" r="6.3"/>
<circle cx="1246.2" cy="1146.7" r="6.3"/>
<circle cx="1264.5" cy="1139.6" r="6.3"/>
<circle cx="1279.1" cy="1138.4" r="6.3"/>
<circle cx="1277.9" cy="1171.8" r="6.3"/>
<circle cx="1298.5" cy="1159.1" r="6.3"/>
<circle cx="1312.5" cy="1156" r="6.3"/>
<circle cx="1320.4" cy="1162.1" r="6.3"/>
<circle cx="1316.8" cy="1136" r="6.3"/>
<circle cx="1325.9" cy="1145.1" r="6.3"/>
<circle cx="1332" cy="1151.2" r="6.3"/>
<circle cx="1338.1" cy="1137.8" r="6.3"/>
<circle cx="1349.6" cy="1127.4" r="6.3"/>
<circle cx="1353.3" cy="1132.3" r="6.3"/>
<circle cx="1343.6" cy="1140.8" r="6.3"/>
<circle cx="1349.6" cy="1142" r="6.3"/>
<circle cx="1349.6" cy="1152.4" r="6.3"/>
<circle cx="1335.6" cy="1162.1" r="6.3"/>
<circle cx="1349.6" cy="1167" r="6.3"/>
<circle cx="1362.4" cy="1171.8" r="6.3"/>
<circle cx="1367.3" cy="1156.9" r="6.3"/>
<circle cx="1378.2" cy="1136" r="6.3"/>
<circle cx="1389.8" cy="1135.4" r="6.3"/>
<circle cx="1395.9" cy="1111.6" r="6.3"/>
<circle cx="1389.8" cy="1151.8" r="6.3"/>
<circle cx="1397.1" cy="1154.8" r="6.3"/>
<circle cx="1378.8" cy="1158.5" r="6.3"/>
<circle cx="1379.4" cy="1165.2" r="6.3"/>
<circle cx="1390.4" cy="1167.6" r="6.3"/>
<circle cx="1389.8" cy="1173.1" r="6.3"/>
<circle cx="1337.5" cy="1177.3" r="6.3"/>
<circle cx="1343.6" cy="1184.6" r="6.3"/>
<circle cx="1352.1" cy="1184.6" r="6.3"/>
<circle cx="1345.4" cy="1191.3" r="6.3"/>
<circle cx="1352.1" cy="1174.9" r="6.3"/>
<circle cx="1371.5" cy="1179.1" r="6.3"/>
<circle cx="1374.6" cy="1189.5" r="6.3"/>
<circle cx="1385.5" cy="1181.6" r="6.3"/>
<circle cx="1397.1" cy="1183.4" r="6.3"/>
<circle cx="1397.1" cy="1196.2" r="6.3"/>
<circle cx="1398.3" cy="1206.5" r="6.3"/>
<circle cx="1299.8" cy="1185.2" r="6.3"/>
<circle cx="1305.8" cy="1184" r="6.3"/>
<circle cx="1311.9" cy="1182.2" r="6.3"/>
<circle cx="1314.4" cy="1199.8" r="6.3"/>
<circle cx="1316.8" cy="1196.2" r="6.3"/>
<circle cx="1471.8" cy="1099.7" r="6.3"/>
<circle cx="1427.7" cy="1132.9" r="6.3"/>
<circle cx="1432.8" cy="1127.7" r="6.3"/>
<circle cx="1431.4" cy="1161.8" r="6.3"/>
<circle cx="1413.7" cy="1166.4" r="6.3"/>
<circle cx="1401.6" cy="1167" r="6.3"/>
<circle cx="1407.6" cy="1177.3" r="6.3"/>
<circle cx="1428.9" cy="1174.9" r="6.3"/>
<circle cx="1425.9" cy="1185.2" r="6.3"/>
<circle cx="1435" cy="1188.9" r="6.3"/>
<circle cx="1444.1" cy="1198" r="6.3"/>
<circle cx="1431.4" cy="1206.5" r="6.3"/>
<circle cx="1399.1" cy="1184.6" r="6.3"/>
<circle cx="1402.2" cy="1191.9" r="6.3"/>
<circle cx="1405.8" cy="1196.2" r="6.3"/>
<circle cx="1412.5" cy="1196.2" r="6.3"/>
<circle cx="1402.2" cy="1207.1" r="6.3"/>
<circle cx="1475.8" cy="1137.2" r="6.3"/>
<circle cx="1475.2" cy="1142" r="6.3"/>
<circle cx="1484.6" cy="1142.9" r="6.3"/>
<circle cx="1479.4" cy="1154" r="6.3"/>
<circle cx="1514.7" cy="1138.4" r="6.3"/>
<circle cx="1534.8" cy="1133.5" r="6.3"/>
<circle cx="1512" cy="1152.7" r="6.3"/>
<circle cx="1514.7" cy="1173.7" r="6.3"/>
<circle cx="1527.5" cy="1179.5" r="6.3"/>
<circle cx="1520.8" cy="1186.8" r="6.3"/>
<circle cx="1461.8" cy="1180.4" r="6.3"/>
<circle cx="1463" cy="1184" r="6.3"/>
<circle cx="1466.6" cy="1193.7" r="6.3"/>
<circle cx="1480.6" cy="1190.1" r="6.3"/>
<circle cx="1475.8" cy="1199.8" r="6.3"/>
<circle cx="1487" cy="1205.7" r="6.3"/>
<circle cx="1461.8" cy="1207.7" r="6.3"/>
<circle cx="1501.9" cy="1206.5" r="6.3"/>
<circle cx="1506.2" cy="1206.5" r="6.3"/>
<circle cx="1523.2" cy="1200.8" r="6.3"/>
<circle cx="1534.8" cy="1200.8" r="6.3"/>
<circle cx="1452.7" cy="1226.6" r="6.3"/>
<circle cx="1449.2" cy="1233.9" r="6.3"/>
<circle cx="1490.6" cy="1240.8" r="6.3"/>
</g>
<line x1="114.6" y1="1078.5" x2="916" y2="1078.5" stroke="#920000" stroke-width="4" stroke-dasharray="8.6 3.33"/>
<line x1="114.6" y1="1336.1" x2="916" y2="1336.1" stroke="#920000" stroke-width="4" stroke-dasharray="8.6 3.33"/>
<line x1="188.9" y1="1224" x2="767.6" y2="1111.6" stroke="#ff00ff" stroke-width="3" stroke-dasharray="7 3.5 2.5 3.5 2.5 3.5"/>
<line x1="114.6" y1="1207.7" x2="916" y2="1207.7" stroke="#033a8c" stroke-width="3.2" />
<line x1="153.9" y1="1057.5" x2="153.9" y2="1100.3" stroke="#0000ff" stroke-width="3" stroke-linecap="round"/>
<line x1="139.6" y1="1057.5" x2="168.2" y2="1057.5" stroke="#0000ff" stroke-width="3" stroke-linecap="round"/>
<line x1="139.6" y1="1100.3" x2="168.2" y2="1100.3" stroke="#0000ff" stroke-width="3" stroke-linecap="round"/>
<line x1="153.9" y1="1194.8" x2="153.9" y2="1220" stroke="#1c761c" stroke-width="3" stroke-linecap="round"/>
<line x1="139.6" y1="1194.8" x2="168.2" y2="1194.8" stroke="#1c761c" stroke-width="3" stroke-linecap="round"/>
<line x1="139.6" y1="1220" x2="168.2" y2="1220" stroke="#1c761c" stroke-width="3" stroke-linecap="round"/>
<line x1="153.9" y1="1314.9" x2="153.9" y2="1358" stroke="#0000ff" stroke-width="3" stroke-linecap="round"/>
<line x1="139.6" y1="1314.9" x2="168.2" y2="1314.9" stroke="#0000ff" stroke-width="3" stroke-linecap="round"/>
<line x1="139.6" y1="1358" x2="168.2" y2="1358" stroke="#0000ff" stroke-width="3" stroke-linecap="round"/>
<text x="913" y="1069.4" font-size="24.5" font-family="'Liberation Sans', Arial, sans-serif" text-anchor="end" >+1.96 SD</text>
<text x="913" y="1107.3" font-size="24.5" font-family="'Liberation Sans', Arial, sans-serif" text-anchor="end" >26.5</text>
<text x="913" y="1198.7" font-size="24.5" font-family="'Liberation Sans', Arial, sans-serif" text-anchor="end" >Mean</text>
<text x="913" y="1236.6" font-size="24.5" font-family="'Liberation Sans', Arial, sans-serif" text-anchor="end" >5.7</text>
<text x="913" y="1327.3" font-size="24.5" font-family="'Liberation Sans', Arial, sans-serif" text-anchor="end" >-1.96 SD</text>
<text x="913" y="1365.3" font-size="24.5" font-family="'Liberation Sans', Arial, sans-serif" text-anchor="end" >-15.1</text>
<line x1="1105.7" y1="1087" x2="1910" y2="1087" stroke="#920000" stroke-width="4" stroke-dasharray="8.6 3.63"/>
<line x1="1105.7" y1="1254" x2="1910" y2="1254" stroke="#920000" stroke-width="4" stroke-dasharray="8.6 3.63"/>
<line x1="1222.3" y1="1166.8" x2="1794.5" y2="1176.3" stroke="#ff00ff" stroke-width="3" stroke-dasharray="7 3.5 2.5 3.5 2.5 3.5"/>
<line x1="1105.7" y1="1170.3" x2="1913.5" y2="1170.3" stroke="#033a8c" stroke-width="3.2" />
<line x1="1145.5" y1="1072.4" x2="1145.5" y2="1100.6" stroke="#0000ff" stroke-width="3" stroke-linecap="round"/>
<line x1="1131.8" y1="1072.4" x2="1159.2" y2="1072.4" stroke="#0000ff" stroke-width="3" stroke-linecap="round"/>
<line x1="1131.8" y1="1100.6" x2="1159.2" y2="1100.6" stroke="#0000ff" stroke-width="3" stroke-linecap="round"/>
<line x1="1145.5" y1="1161.9" x2="1145.5" y2="1178.6" stroke="#1c761c" stroke-width="3" stroke-linecap="round"/>
<line x1="1131.8" y1="1161.9" x2="1159.2" y2="1161.9" stroke="#1c761c" stroke-width="3" stroke-linecap="round"/>
<line x1="1131.8" y1="1178.6" x2="1159.2" y2="1178.6" stroke="#1c761c" stroke-width="3" stroke-linecap="round"/>
<line x1="1145.5" y1="1240.1" x2="1145.5" y2="1268.2" stroke="#0000ff" stroke-width="3" stroke-linecap="round"/>
<line x1="1131.8" y1="1240.1" x2="1159.2" y2="1240.1" stroke="#0000ff" stroke-width="3" stroke-linecap="round"/>
<line x1="1131.8" y1="1268.2" x2="1159.2" y2="1268.2" stroke="#0000ff" stroke-width="3" stroke-linecap="round"/>
<text x="0" y="0" font-size="24.5" font-family="'Liberation Sans', Arial, sans-serif" text-anchor="end" transform="translate(1911.5 1077.8) scale(1.045 1)">+1.96 SD</text>
<text x="0" y="0" font-size="24.5" font-family="'Liberation Sans', Arial, sans-serif" text-anchor="end" transform="translate(1911.5 1115.5) scale(1.045 1)">25.8</text>
<text x="0" y="0" font-size="24.5" font-family="'Liberation Sans', Arial, sans-serif" text-anchor="end" transform="translate(1911.5 1161.2) scale(1.045 1)">Mean</text>
<text x="0" y="0" font-size="24.5" font-family="'Liberation Sans', Arial, sans-serif" text-anchor="end" transform="translate(1911.5 1199) scale(1.045 1)">-11.9</text>
<text x="0" y="0" font-size="24.5" font-family="'Liberation Sans', Arial, sans-serif" text-anchor="end" transform="translate(1911.5 1244.7) scale(1.045 1)">-1.96 SD</text>
<text x="0" y="0" font-size="24.5" font-family="'Liberation Sans', Arial, sans-serif" text-anchor="end" transform="translate(1911.5 1282.4) scale(1.045 1)">-49.5</text>
<defs><clipPath id="mclip"><rect x="100" y="1420" width="31.6" height="40"/></clipPath></defs>
<g clip-path="url(#mclip)">
<text x="0" y="0" font-size="24.5" font-family="'Liberation Sans', Arial, sans-serif" text-anchor="start" transform="translate(114.3 1447) scale(1.12 1)">M</text>
</g>
<polyline points="169.8,592.6 190,577.3 234.6,548.2 247.4,541.5 257.6,536.8 274.5,527.3 294.1,513.1 300,509.1 313.2,500.2 320.8,494.5 331.2,486 345.4,473.7 366.2,456.6 394.6,434.9 413.5,419.7 426.8,408.4 450,390.3 513.9,336.1 574.9,283.3 650.7,219.4 680,195 750.4,135" fill="none" stroke="#5b8fc9" stroke-width="1.6" stroke-linejoin="round"/>
<polyline points="1168,606.4 1206.8,583.8 1238.8,566 1270.8,550 1295.4,537.1 1315.1,526.6 1344.6,509.4 1369.2,497.7 1400,481.1 1450,452.9 1514.3,419.7 1528.5,411.2 1854,162.7" fill="none" stroke="#5b8fc9" stroke-width="1.6" stroke-linejoin="round"/>
</svg>
</body></html>
